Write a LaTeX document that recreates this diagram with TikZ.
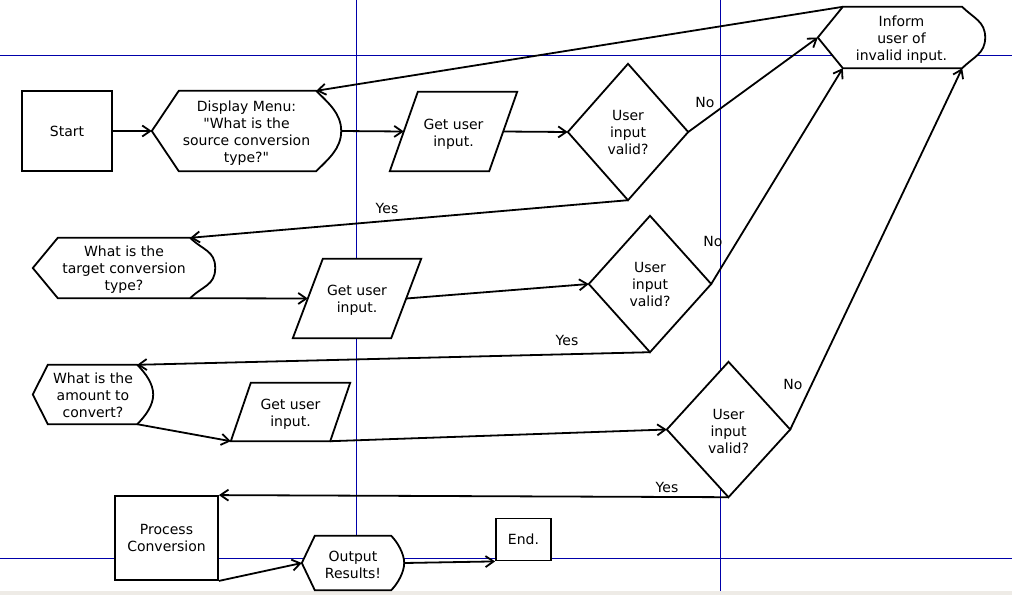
\documentclass[tikz,border=0pt]{standalone}
\usepackage{fontspec}
\setmainfont{DejaVu Sans}[Ligatures=TeXOff]
\usetikzlibrary{arrows.meta,calc}
\pgfdeclarelayer{guides}
\pgfdeclarelayer{outlines}
\pgfsetlayers{guides,outlines,main}
\definecolor{guideblue}{RGB}{0,0,170}
\definecolor{stripgray}{RGB}{238,235,230}
\tikzset{
  txt/.style={inner sep=0pt, align=center, font=\fontsize{14}{17}\selectfont},
  frame/.style={inner sep=0pt},
  rectbox/.style={txt, draw, fill=white, line width=1.8pt},
  outline/.style={draw, fill=white, line width=1.8pt, line join=miter},
  conn/.style={line width=1.8pt, -{Straight Barb[length=8pt,width=11pt]}},
  lbl/.style={inner sep=0pt, font=\fontsize{14}{17}\selectfont},
  guide/.style={guideblue, line width=1pt},
}
% display symbol: pointed left end, rounded right end
\newcommand\mkdisplay[3]{%
  \draw[outline] (#1.west) -- ($(#1.north west)+(#2,0)$) -- ($(#1.north east)+(-#3,0)$)
    .. controls ($(#1.north east)+(-#3/2,#3/2)$) and ($(#1.east)+(0,-#3*0.7)$) .. (#1.east)
    .. controls ($(#1.east)+(0,#3*0.7)$) and ($(#1.south east)+(-#3/2,-#3/2)$) .. ($(#1.south east)+(-#3,0)$)
    -- ($(#1.south west)+(#2,0)$) -- cycle;}
% input/output parallelogram leaning right
\newcommand\mkpara[2]{%
  \draw[outline] ($(#1.north west)+(#2,0)$) -- (#1.north east)
    -- ($(#1.south east)+(-#2,0)$) -- (#1.south west) -- cycle;}
% decision diamond
\newcommand\mkdiamond[1]{%
  \draw[outline] (#1.north) -- (#1.east) -- (#1.south) -- (#1.west) -- cycle;}

\begin{document}
\begin{tikzpicture}[x=1pt,y=-1pt]
\useasboundingbox (0,0) rectangle (1012,595);

% guide lines and bottom strip
\begin{pgfonlayer}{guides}
  \fill[white] (0,0) rectangle (1012,595);
  \fill[stripgray] (0,591) rectangle (1012,595);
  \draw[guide] (356,0) -- (356,591);
  \draw[guide] (720,0) -- (720,591);
  \draw[guide] (0,55) -- (1012,55);
  \draw[guide] (0,558) -- (1012,558);
\end{pgfonlayer}

% boxes with their own frame
\node[rectbox, minimum width=90pt, minimum height=80pt] (start) at (67,131) {Start};
\node[rectbox, minimum width=103pt, minimum height=84pt] (process) at (166.5,538) {Process\\Conversion};
\node[rectbox, minimum width=55pt, minimum height=42pt] (end) at (523.5,539.5) {End.};

% frames of the drawn symbols
\node[frame, minimum width=189pt, minimum height=80pt] (disp1) at (246.5,131) {};
\node[frame, minimum width=127pt, minimum height=79pt] (get1) at (453.5,131.5) {};
\node[frame, minimum width=120pt, minimum height=136pt] (dia1) at (628,132) {};
\node[frame, minimum width=167pt, minimum height=61pt] (inform) at (901.5,37.5) {};
\node[frame, minimum width=182pt, minimum height=60pt] (target) at (124,268) {};
\node[frame, minimum width=128pt, minimum height=79pt] (get2) at (357,298.5) {};
\node[frame, minimum width=122pt, minimum height=136pt] (dia2) at (650,284) {};
\node[frame, minimum width=120pt, minimum height=59pt] (amount) at (93,394.5) {};
\node[frame, minimum width=119pt, minimum height=58pt] (get3) at (290.5,412) {};
\node[frame, minimum width=123pt, minimum height=135pt] (dia3) at (728.5,429.5) {};
\node[frame, minimum width=102pt, minimum height=54pt] (output) at (353,563) {};

% symbol outlines
\begin{pgfonlayer}{outlines}
  \mkdisplay{disp1}{27}{25}
  \mkdisplay{inform}{25}{23}
  \mkdisplay{target}{25}{25}
  \mkdisplay{amount}{15}{16}
  \mkdisplay{output}{13}{13}
  \mkpara{get1}{28}
  \mkpara{get2}{30}
  \mkpara{get3}{20}
  \mkdiamond{dia1}
  \mkdiamond{dia2}
  \mkdiamond{dia3}
\end{pgfonlayer}

% symbol texts
\node[txt] (disp1-t) at ($(disp1.center)+(0,2)$) {Display Menu:\\"What is the\\source conversion\\type?"};
\node[txt] (get1-t) at ($(get1.center)+(0,2.5)$) {Get user\\input.};
\node[txt] (dia1-t) at ($(dia1.center)+(0,0.5)$) {User\\input\\valid?};
\node[txt] (inform-t) at ($(inform.center)+(0,2)$) {Inform\\user of\\invalid input.};
\node[txt] (target-t) at ($(target.center)+(0,2)$) {What is the\\target conversion\\type?};
\node[txt] (get2-t) at ($(get2.center)+(0,2)$) {Get user\\input.};
\node[txt] (dia2-t) at ($(dia2.center)+(0,0)$) {User\\input\\valid?};
\node[txt] (amount-t) at ($(amount.center)+(0,1)$) {What is the\\amount to\\convert?};
\node[txt] (get3-t) at ($(get3.center)+(0,2)$) {Get user\\input.};
\node[txt] (dia3-t) at ($(dia3.center)+(0,1.5)$) {User\\input\\valid?};
\node[txt] (output-t) at ($(output.center)+(0,2)$) {Output\\Results!};

% connector end points on symbol edges
\coordinate (disp1-ne) at ($(disp1.north east)+(-25,0)$);
\coordinate (get1-l) at ($(get1.west)+(14,0)$);
\coordinate (get1-r) at ($(get1.east)+(-14,0)$);
\coordinate (inform-nw) at ($(inform.north west)+(25,0)$);
\coordinate (inform-sw) at ($(inform.south west)+(25,0)$);
\coordinate (inform-se) at ($(inform.south east)+(-23,0)$);
\coordinate (target-ne) at ($(target.north east)+(-25,0)$);
\coordinate (target-se) at ($(target.south east)+(-25,0)$);
\coordinate (get2-l) at ($(get2.west)+(15,0)$);
\coordinate (get2-r) at ($(get2.east)+(-15,0)$);
\coordinate (amount-ne) at ($(amount.north east)+(-16,0)$);
\coordinate (amount-se) at ($(amount.south east)+(-16,0)$);
\coordinate (get3-se) at ($(get3.south east)+(-20,0)$);

% connectors
\draw[conn] (start.east) -- (disp1.west);
\draw[conn] (disp1.east) -- (get1-l);
\draw[conn] (get1-r) -- (dia1.west);
\draw[conn] (dia1.east) -- (inform.west);
\draw[conn] (inform-nw) -- (disp1-ne);
\draw[conn] (dia1.south) -- (target-ne);
\draw[conn] (target-se) -- (get2-l);
\draw[conn] (get2-r) -- (dia2.west);
\draw[conn] (dia2.east) -- (inform-sw);
\draw[conn] (dia2.south) -- (amount-ne);
\draw[conn] (amount-se) -- (get3.south west);
\draw[conn] (get3-se) -- (dia3.west);
\draw[conn] (dia3.east) -- (inform-se);
\draw[conn] (dia3.south) -- (process.north east);
\draw[conn] (process.south east) -- (output.west);
\draw[conn] (output.east) -- (end.south west);

% branch labels
\node[lbl] (no1) at (705,102) {No};
\node[lbl] (yes1) at (387,208) {Yes};
\node[lbl] (no2) at (713,241) {No};
\node[lbl] (yes2) at (567,340) {Yes};
\node[lbl] (no3) at (793,384) {No};
\node[lbl] (yes3) at (667,487) {Yes};
\end{tikzpicture}
\end{document}
